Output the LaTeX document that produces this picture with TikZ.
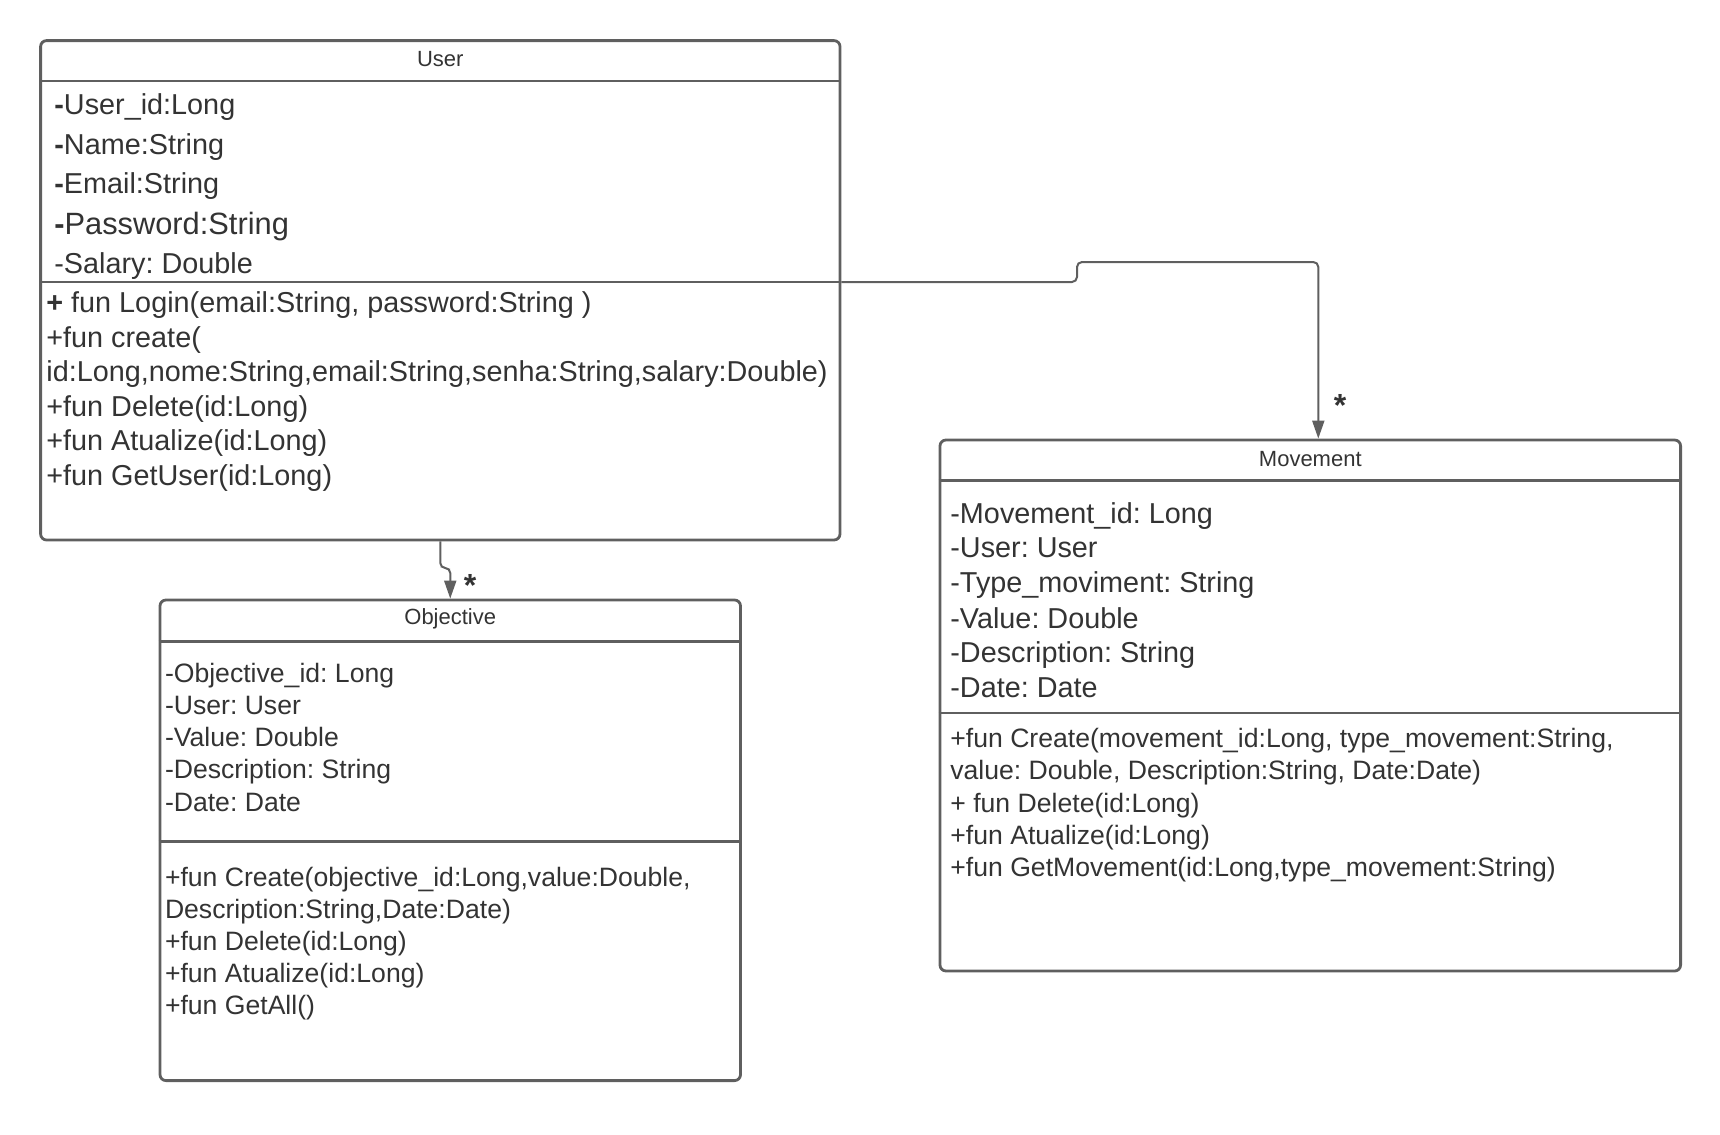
\documentclass[tikz,border=0pt]{standalone}
\usepackage{fontspec}
\setmainfont{Liberation Sans}
\frenchspacing
\usetikzlibrary{arrows.meta}

\definecolor{linegray}{HTML}{5F5F5F}
\definecolor{textgray}{HTML}{333333}

\begin{document}
\begin{tikzpicture}[x=0.5pt, y=-0.5pt,
  classbox/.style={draw=linegray, line width=1.4pt, rounded corners=3pt, inner sep=0pt},
  classtitle/.style={text=textgray, inner sep=0pt, yshift=-0.75pt, font=\fontsize{11}{13}\selectfont},
  membertext/.style={anchor=west, inner sep=0pt, yshift=-1.6pt, text height=0.72em, text depth=0pt, text=textgray},
  bodybig/.style={membertext, font=\fontsize{14.4}{17}\selectfont},
  bodysmall/.style={membertext, font=\fontsize{13.3}{16}\selectfont},
  sepline/.style={draw=linegray, line width=1.4pt},
  assoc/.style={draw=linegray, line width=1pt, rounded corners=2.5pt, -{Triangle[length=9pt,width=6pt]}},
  mult/.style={anchor=base, inner sep=0pt, text=textgray, font=\bfseries\fontsize{16}{18}\selectfont}]

  \useasboundingbox (0,0) rectangle (1720,1135);

  % --- User class ---
  \node[classbox, minimum width=399.7pt, minimum height=249.7pt] (user) at (440.3,290.3) {};
  \node[classtitle] (usertitle) at (440.3,58) {User};
  \draw[sepline] (user.west |- 0,81) -- (user.east |- 0,81);
  \draw[sepline] (user.west |- 0,282) -- (user.east |- 0,282);

  \node[bodybig] (userid) at (54,104) {\textbf{-}User\_id:Long};
  \node[bodybig] (username) at (54,143.7) {\textbf{-}Name:String};
  \node[bodybig] (useremail) at (54,183.5) {\textbf{-}Email:String};
  \node[bodybig, font=\fontsize{15.4}{18}\selectfont] (userpass) at (54,224) {\textbf{-}Password:String};
  \node[bodybig] (usersalary) at (54,263) {-Salary: Double};

  \node[bodybig] (userlogin) at (46,301.7) {\textbf{+} fun Login(email:String, password:String )};
  \node[bodybig] (usercreate) at (46,336.8) {+fun create(};
  \node[bodybig] (usercreateargs) at (46,370.8) {id:Long,nome:String,email:String,senha:String,salary:Double)};
  \node[bodybig] (userdelete) at (46,405.9) {+fun Delete(id:Long)};
  \node[bodybig] (userupdate) at (46,439.9) {+fun Atualize(id:Long)};
  \node[bodybig] (userget) at (46,475) {+fun GetUser(id:Long)};

  % --- Objective class ---
  \node[classbox, minimum width=290.25pt, minimum height=240.3pt] (objective) at (450.25,840.3) {};
  \node[classtitle] (objtitle) at (450.25,617.6) {Objective};
  \draw[sepline] (objective.west |- 0,641.7) -- (objective.east |- 0,641.7);
  \draw[sepline] (objective.west |- 0,841.4) -- (objective.east |- 0,841.4);

  \node[bodysmall] (objid) at (164.6,672.5) {-Objective\_id: Long};
  \node[bodysmall] (objuser) at (164.6,704.3) {-User: User};
  \node[bodysmall] (objvalue) at (164.6,736.1) {-Value: Double};
  \node[bodysmall] (objdesc) at (164.6,767.9) {-Description: String};
  \node[bodysmall] (objdate) at (164.6,800.8) {-Date: Date};

  \node[bodysmall] (objcreate) at (164.6,876.5) {+fun Create(objective\_id:Long,value:Double,};
  \node[bodysmall] (objcreateargs) at (164.6,908.3) {Description:String,Date:Date)};
  \node[bodysmall] (objdelete) at (164.6,940.1) {+fun Delete(id:Long)};
  \node[bodysmall] (objupdate) at (164.6,971.9) {+fun Atualize(id:Long)};
  \node[bodysmall] (objgetall) at (164.6,1003.8) {+fun GetAll()};

  % --- Movement class ---
  \node[classbox, minimum width=370.3pt, minimum height=265.5pt] (movement) at (1310.3,705.5) {};
  \node[classtitle] (movtitle) at (1310.3,457.5) {Movement};
  \draw[sepline] (movement.west |- 0,480.5) -- (movement.east |- 0,480.5);
  \draw[sepline] (movement.west |- 0,713) -- (movement.east |- 0,713);

  \node[bodybig] (movid) at (950,513.4) {-Movement\_id: Long};
  \node[bodybig] (movuser) at (950,547.4) {-User: User};
  \node[bodybig] (movtype) at (950,582.5) {-Type\_moviment: String};
  \node[bodybig] (movvalue) at (950,617.6) {-Value: Double};
  \node[bodybig] (movdesc) at (950,651.6) {-Description: String};
  \node[bodybig] (movdate) at (950,686.7) {-Date: Date};

  \node[bodysmall] (movcreate) at (950,737.2) {+fun Create(movement\_id:Long, type\_movement:String,};
  \node[bodysmall] (movcreateargs) at (950,769) {value: Double, Description:String, Date:Date)};
  \node[bodysmall] (movdelete) at (950,801.9) {+ fun Delete(id:Long)};
  \node[bodysmall] (movupdate) at (950,833.7) {+fun Atualize(id:Long)};
  \node[bodysmall] (movget) at (950,865.6) {+fun GetMovement(id:Long,type\_movement:String)};

  % --- Associations ---
  \draw[assoc] (user.south) -- (440.3,568) -| (objective.north);
  \node[mult] (objmult) at (470,596) {*};

  \draw[assoc] (user.east |- 0,282) -- (1077,282) -- (1077,262) -| ([xshift=4pt]movement.north);
  \node[mult] (movmult) at (1340,416) {*};

\end{tikzpicture}
\end{document}
